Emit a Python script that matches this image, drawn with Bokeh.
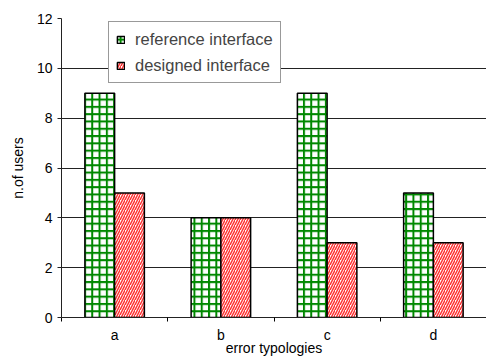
from bokeh.plotting import figure
from bokeh.models import FixedTicker, Range1d, ColumnDataSource, Legend, LegendItem
from bokeh.embed import file_html
from bokeh.resources import INLINE

categories = ["a", "b", "c", "d"]
reference_interface = [9, 4, 9, 5]
designed_interface = [5, 4, 3, 3]
y_ticks = [0, 2, 4, 6, 8, 10, 12]

FONT = "Liberation Sans"
idx = list(range(len(categories)))

p = figure(width=486, height=358, output_backend="svg", toolbar_location=None,
           x_range=Range1d(0, len(categories)), y_range=Range1d(0, 12),
           min_border_left=61, min_border_right=0, min_border_top=18, min_border_bottom=40)
p.outline_line_color = None
p.background_fill_color = "white"
p.border_fill_color = "white"

src = ColumnDataSource(dict(
    x1=[i + 0.5 - 0.14 for i in idx],
    x2=[i + 0.5 + 0.14 for i in idx],
    ref=reference_interface,
    des=designed_interface,
))

r1 = p.vbar(x="x1", top="ref", bottom=0, width=0.28, source=src,
            fill_color="white", line_color="black", line_width=1.5,
            hatch_pattern="+", hatch_color="#008800", hatch_scale=7.3, hatch_weight=2)
r2 = p.vbar(x="x2", top="des", bottom=0, width=0.28, source=src,
            fill_color="white", line_color="black", line_width=1.5,
            hatch_pattern="/", hatch_color="#ff3333", hatch_scale=5, hatch_weight=1.5)

# x axis: labels at category centers, ticks at boundaries
p.xaxis.ticker = FixedTicker(ticks=[i + 0.5 for i in idx], minor_ticks=list(range(len(categories) + 1)))
p.xaxis.major_label_overrides = {i + 0.5: c for i, c in zip(idx, categories)}
p.xaxis.major_tick_out = 0
p.xaxis.major_tick_in = 0
p.xaxis.minor_tick_out = 4
p.xaxis.minor_tick_in = 0
p.xaxis.minor_tick_line_color = "black"
p.xaxis.axis_label = "error typologies"
p.xgrid.grid_line_color = None

p.yaxis.ticker = FixedTicker(ticks=y_ticks)
p.yaxis.major_tick_out = 4
p.yaxis.major_tick_in = 0
p.yaxis.minor_tick_line_color = None
p.yaxis.axis_label = "n.of users"
p.ygrid.grid_line_color = "#222222"
p.ygrid.grid_line_width = 1

for ax in (p.xaxis, p.yaxis):
    ax.axis_line_color = "#222222"
    ax.major_tick_line_color = "#222222"
    ax.major_label_text_font = FONT
    ax.major_label_text_font_size = "14px"
    ax.major_label_text_color = "black"
    ax.axis_label_text_font = FONT
    ax.axis_label_text_font_size = "14px"
    ax.axis_label_text_font_style = "normal"
    ax.axis_label_text_color = "black"
p.xaxis.major_label_standoff = 5
p.xaxis.axis_label_standoff = -6
p.yaxis.major_label_standoff = 5
p.yaxis.axis_label_standoff = 8

legend = Legend(items=[LegendItem(label="reference interface", renderers=[r1]),
                       LegendItem(label="designed interface", renderers=[r2])],
                location=(47, 234))
legend.label_text_font = FONT
legend.label_text_font_size = "16.5px"
legend.glyph_width = 9
legend.glyph_height = 9
legend.label_standoff = 10
legend.padding = 7
legend.spacing = 6
legend.label_height = 20
legend.margin = 0
legend.border_line_color = "#333333"
legend.border_line_width = 1
legend.background_fill_color = "white"
legend.background_fill_alpha = 1
p.add_layout(legend, "center")

open("out.html", "w").write(file_html(p, INLINE))
